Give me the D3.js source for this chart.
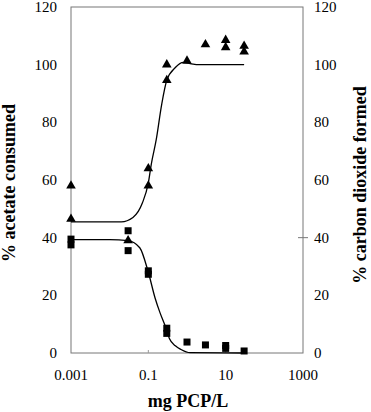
<!DOCTYPE html>
<html>
<head>
<meta charset="utf-8">
<script src="https://cdn.jsdelivr.net/npm/d3@7"></script>
<style>
svg text { font-family: "Times New Roman", "Liberation Serif", Tinos, serif !important; }
</style>
</head>
<body style="margin:0">
<div class="chart"></div>
<script>
var width = 371;
var height = 412;
var margin = { top: 7, right: 68, bottom: 59, left: 71 };

// acetate consumed (triangles), [mg PCP/L, %]
var acetateX = [0.001, 0.001, 0.03, 0.1, 0.1, 0.3, 0.3, 1, 3, 10, 10, 30, 30];
var acetateY = [58, 46.5, 39, 64, 58, 100, 94.6, 101.3, 107, 108.5, 106, 106.5, 104.5];
// carbon dioxide formed (squares)
var co2X = [0.001, 0.001, 0.03, 0.03, 0.1, 0.1, 0.3, 0.3, 1, 3, 10, 10, 30];
var co2Y = [39.5, 37.5, 42.4, 35.5, 28.5, 27.3, 8.6, 6.8, 3.8, 2.8, 2.6, 1.6, 0.7];
// fitted curves
var acetateFitX = [0.001, 0.02, 0.04, 0.07, 0.1, 0.12, 0.16, 0.22, 0.3, 0.5, 0.8, 1.3, 2, 30];
var acetateFitY = [45.5, 45.5, 47, 52, 59, 65.7, 74, 86, 94.6, 99, 100.8, 100.3, 100, 100];
var co2FitX = [0.001, 0.01, 0.03, 0.06, 0.1, 0.15, 0.2, 0.28, 0.35, 0.5, 0.7, 1.2, 30];
var co2FitY = [39.3, 39.3, 39, 36.5, 28, 19, 14, 9, 5, 2.5, 1.2, 0.1, 0];

var xTicks = [0.001, 0.1, 10, 1000];
var yTicks = [0, 20, 40, 60, 80, 100, 120];

var svg = d3.select(".chart").append("svg").attr("width", width).attr("height", height);
var w = width - margin.left - margin.right;
var h = height - margin.top - margin.bottom;
var g = svg.append("g").attr("transform", "translate(" + margin.left + "," + margin.top + ")");

var x = d3.scaleLog().domain([0.001, 1000]).range([0, w]);
var y = d3.scaleLinear().domain([0, 120]).range([h, 0]);

var serif = '"Times New Roman"';

// frame
g.append("rect").attr("width", w).attr("height", h)
	.attr("fill", "none").attr("stroke", "#777").attr("stroke-width", 1);

// left axis labels
g.selectAll(".yl").data(yTicks).enter().append("text")
	.attr("x", -14).attr("y", function(d) { return y(d) + 5; })
	.attr("text-anchor", "end").attr("font-size", 15)
	.attr("font-family", serif)
	.text(function(d) { return d; });
// right axis labels
g.selectAll(".yr").data(yTicks).enter().append("text")
	.attr("x", w + 11).attr("y", function(d) { return y(d) + 5; })
	.attr("text-anchor", "start").attr("font-size", 15)
	.attr("font-family", serif)
	.text(function(d) { return d; });
// tiny ticks
g.selectAll(".rt").data([40]).enter().append("line")
	.attr("x1", w - 5).attr("x2", w + 5)
	.attr("y1", function(d) { return y(d); }).attr("y2", function(d) { return y(d); })
	.attr("stroke", "#777");
g.selectAll(".xt").data([0.1, 10]).enter().append("line")
	.attr("x1", function(d) { return x(d); }).attr("x2", function(d) { return x(d); })
	.attr("y1", h).attr("y2", h - 3).attr("stroke", "#999");

// x labels
g.selectAll(".xl").data(xTicks).enter().append("text")
	.attr("x", function(d) { return x(d); }).attr("y", h + 27)
	.attr("text-anchor", "middle").attr("font-size", 15)
	.attr("font-family", serif)
	.text(function(d) { return d; });

// titles
var titles = [
	{ t: "mg PCP/L", tr: "translate(" + (margin.left + w / 2 + 1) + ",407)" },
	{ t: "% acetate consumed", tr: "translate(15,183) rotate(-90)" },
	{ t: "% carbon dioxide formed", tr: "translate(366,185) rotate(-90)" }
];
svg.selectAll(".title").data(titles).enter().append("text")
	.attr("transform", function(d) { return d.tr; })
	.attr("text-anchor", "middle").attr("font-size", 18).attr("font-weight", "bold")
	.attr("font-family", serif)
	.text(function(d) { return d.t; });

// fitted curves
var line = d3.line()
	.x(function(d) { return x(d[0]); })
	.y(function(d) { return y(d[1]); })
	.curve(d3.curveMonotoneX);

g.append("path").datum(d3.zip(acetateFitX, acetateFitY))
	.attr("d", line).attr("fill", "none").attr("stroke", "#000").attr("stroke-width", 1.3);
g.append("path").datum(d3.zip(co2FitX, co2FitY))
	.attr("d", line).attr("fill", "none").attr("stroke", "#000").attr("stroke-width", 1.3);

// markers
var tri = d3.symbol().type(d3.symbolTriangle).size(40);
g.selectAll(".tri").data(d3.zip(acetateX, acetateY)).enter().append("path")
	.attr("d", tri)
	.attr("transform", function(d) { return "translate(" + x(d[0]) + "," + y(d[1]) + ")"; })
	.attr("fill", "#000");
g.selectAll(".sq").data(d3.zip(co2X, co2Y)).enter().append("rect")
	.attr("x", function(d) { return x(d[0]) - 3.5; })
	.attr("y", function(d) { return y(d[1]) - 3.5; })
	.attr("width", 7).attr("height", 7)
	.attr("fill", "#000");
</script>
</body>
</html>
